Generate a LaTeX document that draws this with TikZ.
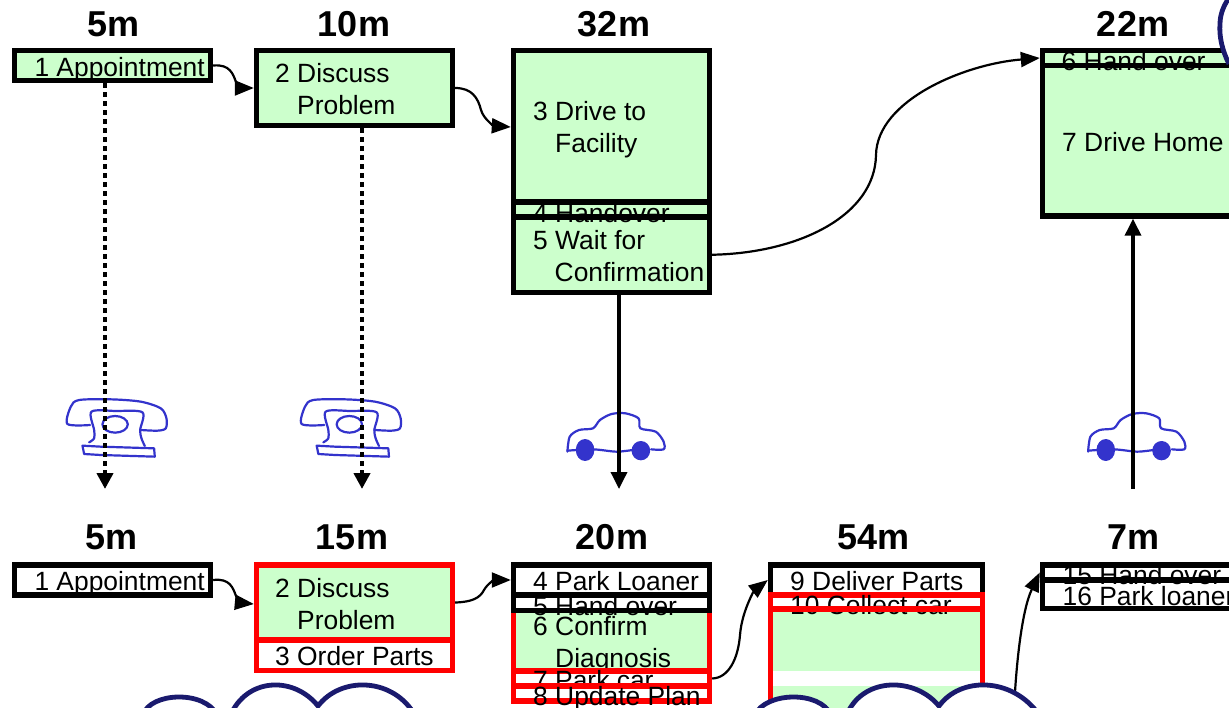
\documentclass[tikz,border=0pt]{standalone}
\usepackage{fontspec}
\setmainfont{Liberation Sans}
\usetikzlibrary{arrows.meta}
\definecolor{boxgreen}{HTML}{CCFFCC}
\definecolor{sketchblue}{HTML}{3333CC}
\definecolor{cloudnavy}{HTML}{1A1A6E}
\tikzset{
  boxbase/.style={rectangle,line width=5.4pt,inner sep=0pt,outer sep=2.7pt},
  blackgreen/.style={boxbase,draw=black,fill=boxgreen},
  blackwhite/.style={boxbase,draw=black,fill=white},
  redgreen/.style={boxbase,draw=red,fill=boxgreen},
  redwhite/.style={boxbase,draw=red,fill=white},
  label/.style={anchor=base west,inner sep=0pt,font=\fontsize{26.4}{30}\selectfont},
  time/.style={anchor=base,inner sep=0pt,font=\fontsize{36}{40}\selectfont\bfseries},
  flow/.style={line width=2.2pt,-{Triangle[length=19pt,width=15pt]}},
  infoflow/.style={line width=4pt,dash pattern=on 5pt off 4pt,-{Triangle[length=16pt,width=16pt]}},
  carflow/.style={line width=3.5pt,-{Triangle[length=17pt,width=16pt]}},
  sketch/.style={draw=sketchblue,line width=2.2pt,line join=round,line cap=round},
  cloud line/.style={draw=cloudnavy,fill=white,line width=4.8pt},
  phonepic/.pic={
    \begin{scope}[x=0.3333pt,y=-0.3333pt]
      \draw[sketch] plot[smooth] coordinates {(268,135) (200,132) (210,80) (235,60) (330,58) (420,65) (480,85) (497,115) (495,145) (470,152) (420,150)};
      \draw[sketch] plot[smooth] coordinates {(265,187) (280,175) (280,150) (272,95) (345,93) (425,97) (418,150) (422,175) (432,198)};
      \draw[sketch] (343,133) ellipse [x radius=38,y radius=25];
      \draw[sketch] (245,197) -- (300,200) -- (460,205) -- (462,230) -- (300,225) -- (250,222) -- cycle;
    \end{scope}
  },
  carpic/.pic={
    \begin{scope}[x=0.4649pt,y=-0.3333pt]
      \draw[sketch] plot[smooth] coordinates {(145,155) (150,110) (170,90) (200,85) (215,60) (240,42) (270,40) (298,55) (302,85) (335,95) (352,125) (352,148) (325,148)};
      \draw[sketch] plot[smooth] coordinates {(145,152) (200,148) (250,155) (285,150)};
      \fill[sketchblue] (183,150) ellipse [x radius=20,y radius=33];
      \fill[sketchblue] (303,152) ellipse [x radius=20,y radius=29];
    \end{scope}
  }
}
\newcommand{\bx}[6]{%
  \pgfmathsetmacro{\bxcx}{(#3+#5)/2}\pgfmathsetmacro{\bxcy}{(#4+#6)/2}%
  \pgfmathsetmacro{\bxw}{#5-#3}\pgfmathsetmacro{\bxh}{#6-#4}%
  \node[#2,minimum width=\bxw pt,minimum height=\bxh pt] (#1) at (\bxcx,\bxcy) {};}
\newcommand{\tx}[4]{\node[label] (#1) at (#2,#3) {#4};}
\begin{document}
\begin{tikzpicture}[x=1pt,y=-1pt]
\clip (0,0) rectangle (1229,707);
\fill[white] (0,0) rectangle (1229,707);

% times
\node[time] (t1) at (113.5,36) {5m};
\node[time] (t2) at (354,36) {10m};
\node[time] (t3) at (614,36) {32m};
\node[time] (t4) at (1133,36) {22m};
\node[time] (t5) at (111.5,549) {5m};
\node[time] (t6) at (352,549) {15m};
\node[time] (t7) at (612,549) {20m};
\node[time] (t8) at (873.5,549) {54m};
\node[time] (t9) at (1133.5,549) {7m};

% top row
\bx{u1}{blackgreen}{14.5}{50.5}{210.5}{80.5}
\tx{u1t}{34.3}{76}{1 Appointment}
\bx{u2}{blackgreen}{256.5}{50.5}{452.5}{125.5}
\tx{u2a}{275}{82}{2 Discuss}
\tx{u2b}{297}{114}{Problem}
\bx{u3}{blackgreen}{513.5}{50.5}{709.5}{202}
\tx{u3a}{533}{120.5}{3 Drive to}
\tx{u3b}{555}{152}{Facility}
\bx{u5}{blackgreen}{513.5}{217}{709.5}{292.5}
\bx{u4}{blackgreen}{513.5}{202}{709.5}{217}
\tx{u4t}{533}{222}{4 Handover}
\tx{u5a}{533}{249}{5 Wait for}
\tx{u5b}{554.5}{281}{Confirmation}
\bx{u7}{blackgreen}{1042.5}{65.5}{1238.5}{216}
\bx{u6}{blackgreen}{1042.5}{50.5}{1238.5}{65.5}
\tx{u6t}{1061.5}{70}{6 Hand over}
\tx{u7t}{1062}{151}{7 Drive Home}

% bottom row
\bx{l1}{blackwhite}{14.5}{565}{210.5}{595}
\tx{l1t}{34.3}{590}{1 Appointment}
\bx{l3}{redwhite}{256.5}{640}{452.5}{670.5}
\tx{l3t}{275}{665}{3 Order Parts}
\bx{l2}{redgreen}{256.5}{565}{452.5}{640}
\tx{l2a}{275}{597}{2 Discuss}
\tx{l2b}{297}{629}{Problem}

\bx{l6}{redgreen}{513.5}{610.5}{709.5}{671}
\tx{l6a}{533}{635}{6 Confirm}
\tx{l6b}{555}{667}{Diagnosis}
\bx{l7}{redwhite}{513.5}{671}{709.5}{686}
\tx{l7t}{533}{689}{7 Park car}
\bx{l8}{redwhite}{513.5}{686}{709.5}{701}
\tx{l8t}{533}{705}{8 Update Plan}
\bx{l5}{blackwhite}{513.5}{595}{709.5}{610.5}
\tx{l5t}{533}{615}{5 Hand over}
\bx{l4}{blackwhite}{513.5}{565}{709.5}{595}
\tx{l4t}{533}{590}{4 Park Loaner}

\bx{l9}{blackwhite}{770.5}{565}{982.5}{595}
\tx{l9t}{790}{590}{9 Deliver Parts}
\bx{l11}{redgreen}{770.5}{609}{982.5}{735}
\fill[white] (773,671) rectangle (980,686);
\bx{l10}{redwhite}{770.5}{595}{982.5}{609}
\tx{l10t}{790}{614}{10 Collect car}
\draw[red,line width=5.4pt] (767.8,609) -- (985.2,609);

\bx{l16}{blackwhite}{1042.5}{580}{1238.5}{608.5}
\bx{l15}{blackwhite}{1042.5}{565}{1238.5}{580}
\tx{l15t}{1062.5}{584}{15 Hand over}
\tx{l16t}{1062.5}{605}{16 Park loaner}

% sketches
\pic at (0.8,380) {phonepic};
\pic at (235,380) {phonepic};
\pic at (500,400) {carpic};
\pic at (1020.7,400) {carpic};

% free ends
\coordinate (d1) at (105,489);
\coordinate (d2) at (362,489);
\coordinate (d3) at (619,489);
\coordinate (d4) at (1133,489);
\coordinate (c1) at (1015,692);

% vertical flows
\draw[infoflow] (d1 |- u1.south) -- (d1);
\draw[infoflow] (d2 |- u2.south) -- (d2);
\draw[carflow] (d3 |- u5.south) -- (d3);
\draw[carflow] (d4) -- (d4 |- u7.south);

% curved flows
\draw[flow] (u1.east) .. controls (230,64) and (233,74) .. (236,82) .. controls (238,87) and (243,88) .. (u2.west |- 0,88);
\draw[flow] (u2.east) .. controls (472,88) and (478,98) .. (481,110) .. controls (484,120) and (495,126) .. (u3.west |- 0,127);
\draw[flow] (u5.east) .. controls (800,253) and (875,215) .. (876,155) .. controls (877,100) and (965,64) .. (u6.west);
\draw[flow] (l1.east) .. controls (230,578) and (233,588) .. (236,596) .. controls (238,601) and (243,603) .. (l2.west |- 0,604);
\draw[flow] (l2.east) .. controls (472,602) and (480,598) .. (484,590) .. controls (488,583) and (495,580) .. (l4.west);
\draw[flow] (l7.east) .. controls (728,678) and (738,660) .. (740,635) .. controls (742,610) and (755,590) .. (l9.west);
\draw[flow] (c1) .. controls (1017,660) and (1022,610) .. (l15.west);

% clouds
\draw[cloud line] (143,715) .. controls (150,692) and (205,690) .. (217,715) -- cycle;
\draw[cloud line] (232,712) .. controls (250,677) and (295,677) .. (318,706) .. controls (340,677) and (390,677) .. (413,712) -- cycle;
\draw[cloud line] (755,715) .. controls (765,692) and (820,690) .. (831,715) -- cycle;
\draw[cloud line] (848,712) .. controls (865,677) and (915,677) .. (939,706) .. controls (960,677) and (1010,677) .. (1037,712) -- cycle;
\draw[cloud line] (1229,64) .. controls (1222,50) and (1219,36) .. (1220,24) .. controls (1220,14) and (1224,5) .. (1229,-2);
\end{tikzpicture}
\end{document}
